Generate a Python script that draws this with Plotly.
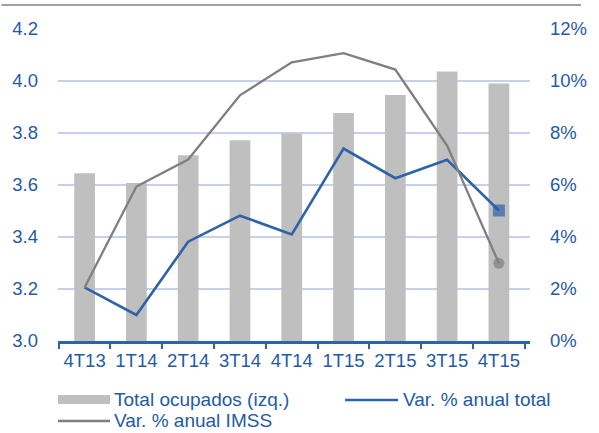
import plotly.graph_objects as go

categories = ["4T13", "1T14", "2T14", "3T14", "4T14", "1T15", "2T15", "3T15", "4T15"]
total_ocupados = [3.645, 3.608, 3.714, 3.772, 3.798, 3.877, 3.946, 4.037, 3.990]
var_total = [2.06, 1.00, 3.82, 4.82, 4.10, 7.40, 6.26, 6.97, 5.02]
var_imss = [2.06, 5.94, 6.98, 9.45, 10.72, 11.07, 10.44, 7.52, 2.99]

left_ticks = [3.0, 3.2, 3.4, 3.6, 3.8, 4.0, 4.2]
left_labels = ["3.0", "3.2", "3.4", "3.6", "3.8", "4.0", "4.2"]
right_ticks = [0, 2, 4, 6, 8, 10, 12]
right_labels = ["0%", "2%", "4%", "6%", "8%", "10%", "12%"]

legend_labels = ["Total ocupados (izq.)", "Var. % anual total", "Var. % anual IMSS"]

BLUE_TXT = "#1F5BA6"
BLUE_LINE = "#2E63A8"
GRAY_LINE = "#7F7F7F"
BAR = "#BFBFBF"
GRID = "#C6D0EC"
FONT = "Liberation Sans, Arial, sans-serif"
TICK_SIZE = 18.5
LEG_SIZE = 19

n = len(categories)
fig = go.Figure()
fig.add_trace(go.Bar(x=categories, y=total_ocupados, marker=dict(color=BAR, line=dict(width=0)),
                     width=0.4, name=legend_labels[0], showlegend=False, yaxis="y"))
fig.add_trace(go.Scatter(x=categories, y=var_total, mode="lines+markers", yaxis="y2",
                         line=dict(color=BLUE_LINE, width=2.6),
                         marker=dict(symbol="square", size=[0] * (n - 1) + [12], color=BLUE_LINE,
                                     line=dict(width=0)),
                         name=legend_labels[1], showlegend=False))
fig.add_trace(go.Scatter(x=categories, y=var_imss, mode="lines+markers", yaxis="y2",
                         line=dict(color=GRAY_LINE, width=2.3),
                         marker=dict(symbol="circle", size=[0] * (n - 1) + [11], color=GRAY_LINE,
                                     line=dict(width=0)),
                         name=legend_labels[2], showlegend=False))

shapes = [
    # legend symbols
    dict(type="rect", xref="paper", yref="paper", x0=0, x1=54 / 490,
         y0=-(395 - 341) / 312, y1=-(404 - 341) / 312, fillcolor=BAR, line=dict(width=0)),
    dict(type="line", xref="paper", yref="paper", x0=298 / 490, x1=353 / 490,
         y0=-(400 - 341) / 312, y1=-(400 - 341) / 312, line=dict(color=BLUE_LINE, width=2.6)),
    dict(type="line", xref="paper", yref="paper", x0=0, x1=54 / 490,
         y0=-(421 - 341) / 312, y1=-(421 - 341) / 312, line=dict(color=GRAY_LINE, width=2.3)),
]

annotations = [
    # top rule (remnant of the cut-off heading)
    dict(text="", xref="paper", yref="paper", x=543 / 490, y=1 + 24 / 312,
         ax=-588, ay=0, showarrow=True, arrowhead=0, arrowwidth=2, arrowcolor="#A0A0A0",
         standoff=0, startstandoff=0),
    dict(text=legend_labels[0], xref="paper", yref="paper", x=56 / 490, y=-(399 - 341) / 312,
         xanchor="left", yanchor="middle", showarrow=False, font=dict(size=LEG_SIZE, color=BLUE_TXT, family=FONT)),
    dict(text=legend_labels[1], xref="paper", yref="paper", x=356 / 490, y=-(399 - 341) / 312,
         xanchor="left", yanchor="middle", showarrow=False, font=dict(size=LEG_SIZE, color=BLUE_TXT, family=FONT)),
    dict(text=legend_labels[2], xref="paper", yref="paper", x=56 / 490, y=-(420 - 341) / 312,
         xanchor="left", yanchor="middle", showarrow=False, font=dict(size=LEG_SIZE, color=BLUE_TXT, family=FONT)),
]

fig.update_layout(
    width=599, height=433,
    margin=dict(l=54, r=55, t=29, b=92, pad=0),
    paper_bgcolor="white", plot_bgcolor="rgba(0,0,0,0)",
    font=dict(family=FONT, size=TICK_SIZE, color=BLUE_TXT),
    bargap=0.6,
    showlegend=False,
    shapes=shapes,
    annotations=annotations,
    xaxis=dict(
        type="category", tickson="boundaries", ticks="outside", ticklen=5, tickwidth=2,
        tickcolor=BLUE_LINE, showline=True, linecolor=BLUE_LINE, linewidth=2.5, tickangle=0,
        showgrid=False, tickfont=dict(size=TICK_SIZE, color=BLUE_TXT), ticklabelstandoff=1,
    ),
    yaxis=dict(
        range=[3.0, 4.2], tickmode="array", tickvals=left_ticks, ticktext=left_labels, showgrid=True,
        gridcolor=GRID, gridwidth=1.5, zeroline=False, showline=False, ticks="",
        tickfont=dict(size=TICK_SIZE, color=BLUE_TXT), ticklabelstandoff=19, layer="below traces",
    ),
    yaxis2=dict(
        range=[0, 12], tickmode="array", tickvals=right_ticks, ticktext=right_labels,
        overlaying="y", side="right",
        showgrid=True, gridcolor=GRID, gridwidth=1.5, zeroline=False, showline=False, ticks="",
        tickfont=dict(size=TICK_SIZE, color=BLUE_TXT), ticklabelstandoff=19, layer="below traces",
    ),
)

fig.write_html("out.html", config={"displayModeBar": False},
               post_script="document.body.style.margin='0';document.body.style.padding='0';")
